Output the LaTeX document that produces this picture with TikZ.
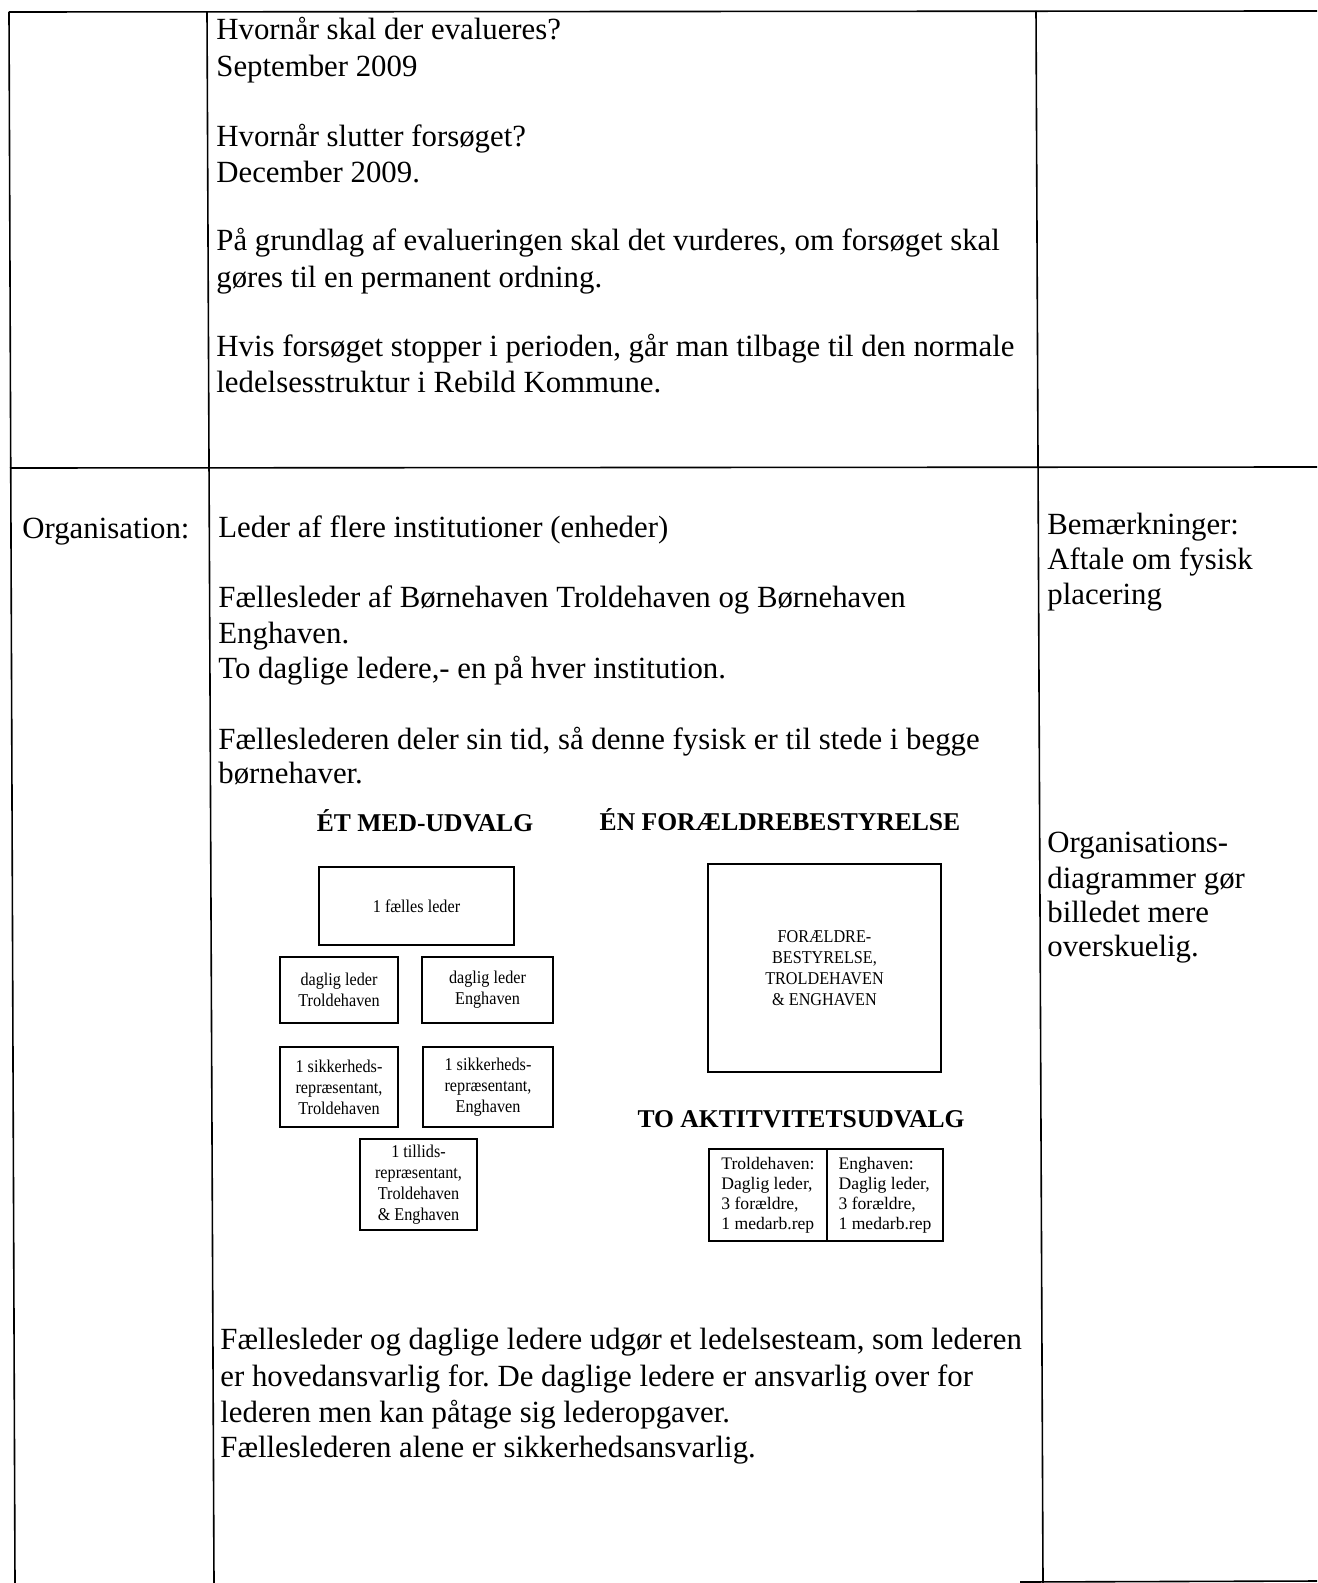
\documentclass[tikz,border=0pt]{standalone}
\usepackage{fontspec}
\setmainfont{Liberation Serif}
\newfontfamily\boxfont{Liberation Serif}[FakeStretch=0.9]
\frenchspacing
\begin{document}
\begin{tikzpicture}[x=0.5pt,y=-0.5pt,
  body/.style={anchor=base west, inner sep=0pt, font=\fontsize{15.4pt}{18.25pt}\selectfont},
  head/.style={anchor=base, inner sep=0pt, font=\bfseries\fontsize{12.8pt}{15pt}\selectfont},
  orgbox/.style={draw, line width=1pt, align=center, inner sep=0pt, font=\boxfont\fontsize{9pt}{10.5pt}\selectfont},
  actbox/.style={draw, line width=1pt, align=left, inner sep=0pt, font=\fontsize{8.8pt}{10pt}\selectfont},
  rule/.style={line width=0.8pt}]
\useasboundingbox (0,0) rectangle (1317,1583);
% table rules
\coordinate (tl) at (9,12);
\coordinate (tr) at (1317,11);
\coordinate (bl) at (15,1583);
\coordinate (ml) at (10,468);
\coordinate (mr) at (1317,467);
\draw[rule] (tl) -- (tr);
\draw[rule] (ml) -- (mr);
\draw[rule] (tl) -- (bl);
\draw[rule] (207,12) -- (214,1583);
\draw[rule] (1036,11) -- (1043,1583);
\draw[rule] (1020,1582) -- (1317,1581);
% top cell
\node[body] (t1) at (216,40) {Hvornår skal der evalueres?};
\node[body] (t2) at (216,77) {September 2009};
\node[body] (t3) at (216,147) {Hvornår slutter forsøget?};
\node[body] (t4) at (216,183) {December 2009.};
\node[body] (t5) at (216,251) {På grundlag af evalueringen skal det vurderes, om forsøget skal};
\node[body] (t6) at (216,288) {gøres til en permanent ordning.};
\node[body] (t7) at (216,357) {Hvis forsøget stopper i perioden, går man tilbage til den normale};
\node[body] (t8) at (216,393) {ledelsesstruktur i Rebild Kommune.};
% lower row
\node[body] (org) at (22,538) {Organisation:};
\node[body] (m1) at (218,537) {Leder af flere institutioner (enheder)};
\node[body] (m2) at (218,607) {Fællesleder af Børnehaven Troldehaven og Børnehaven};
\node[body] (m3) at (218,643) {Enghaven.};
\node[body] (m4) at (218,678) {To daglige ledere,- en på hver institution.};
\node[body] (m5) at (218,749) {Fælleslederen deler sin tid, så denne fysisk er til stede i begge};
\node[body] (m6) at (218,783) {børnehaver.};
\node[body] (r1) at (1047,534) {Bemærkninger:};
\node[body] (r2) at (1047,569) {Aftale om fysisk};
\node[body] (r3) at (1047,604) {placering};
\node[body] (r4) at (1047,852) {Organisations-};
\node[body] (r5) at (1047,888) {diagrammer gør};
\node[body] (r6) at (1047,922) {billedet mere};
\node[body] (r7) at (1047,956) {overskuelig.};
\node[body] (b1) at (220,1349) {Fællesleder og daglige ledere udgør et ledelsesteam, som lederen};
\node[body] (b2) at (220,1386) {er hovedansvarlig for. De daglige ledere er ansvarlig over for};
\node[body] (b3) at (220,1422) {lederen men kan påtage sig lederopgaver.};
\node[body] (b4) at (220,1457) {Fælleslederen alene er sikkerhedsansvarlig.};
% diagram headings
\node[head] (h1) at (425,831) {ÉT MED-UDVALG};
\node[head] (h2) at (780,830) {ÉN FORÆLDREBESTYRELSE};
\node[head] (h3) at (801,1127) {TO AKTITVITETSUDVALG};
% MED boxes
\node[orgbox, minimum width=97.5pt, minimum height=39pt] (A) at (416.5,906) {1 fælles leder};
\node[orgbox, minimum width=59pt, minimum height=33pt] (B) at (339,990) {daglig leder\\Troldehaven};
\node[orgbox, minimum width=65.5pt, minimum height=33pt] (C) at (487.5,990) {daglig leder\\Enghaven};
\node[orgbox, minimum width=59pt, minimum height=40pt] (D) at (339,1087) {1 sikkerheds-\\repræsentant,\\Troldehaven};
\node[orgbox, minimum width=65pt, minimum height=40pt] (E) at (488,1087) {1 sikkerheds-\\repræsentant,\\Enghaven};
\node[orgbox, minimum width=58.5pt, minimum height=45.5pt] (F) at (418.5,1184.5) {1 tillids-\\repræsentant,\\Troldehaven\\\& Enghaven};
% parents board
\node[orgbox, minimum width=116.5pt, minimum height=104pt] (G) at (824.5,968) {FORÆLDRE-\\BESTYRELSE,\\TROLDEHAVEN\\\& ENGHAVEN};
% activity committees
\node[actbox, minimum width=59pt, minimum height=46pt] (H1) at (768,1195) {Troldehaven:\\Daglig leder,\\3 forældre,\\1 medarb.rep};
\node[actbox, minimum width=58pt, minimum height=46pt] (H2) at (885,1195) {Enghaven:\\Daglig leder,\\3 forældre,\\1 medarb.rep};
\end{tikzpicture}
\end{document}
